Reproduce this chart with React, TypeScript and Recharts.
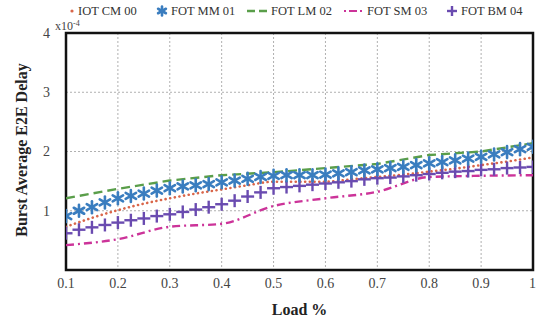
import React from 'react';
import { LineChart, Line, XAxis, YAxis, CartesianGrid, ReferenceArea } from 'recharts';

// delay values are in units of 1e-4 (axis shows x10^-4)
const loadFine = [
  0.1, 0.125, 0.15, 0.175, 0.2, 0.225, 0.25, 0.275, 0.3, 0.325, 0.35, 0.375, 0.4,
  0.425, 0.45, 0.475, 0.5, 0.525, 0.55, 0.575, 0.6, 0.625, 0.65, 0.675, 0.7, 0.725,
  0.75, 0.775, 0.8, 0.825, 0.85, 0.875, 0.9, 0.925, 0.95, 0.975, 1.0,
];
const fotMM01 = [
  0.91, 1.0, 1.06, 1.14, 1.21, 1.25, 1.29, 1.34, 1.38, 1.41, 1.43, 1.45, 1.48,
  1.51, 1.54, 1.57, 1.59, 1.6, 1.6, 1.6, 1.61, 1.63, 1.65, 1.68, 1.7, 1.72,
  1.74, 1.77, 1.8, 1.82, 1.85, 1.88, 1.91, 1.95, 1.99, 2.04, 2.08,
];
const fotBM04 = [
  0.62, 0.68, 0.72, 0.76, 0.8, 0.84, 0.87, 0.91, 0.94, 0.98, 1.02, 1.06, 1.11,
  1.17, 1.24, 1.31, 1.38, 1.4, 1.42, 1.44, 1.46, 1.48, 1.5, 1.53, 1.55, 1.56,
  1.58, 1.6, 1.62, 1.64, 1.66, 1.67, 1.69, 1.7, 1.72, 1.73, 1.74,
];

const loadMid = [0.1, 0.15, 0.2, 0.25, 0.3, 0.35, 0.4, 0.45, 0.5, 0.55, 0.6, 0.65, 0.7, 0.75, 0.8, 0.85, 0.9, 0.95, 1.0];
const iotCM00 = [0.73, 0.88, 1.01, 1.12, 1.21, 1.29, 1.36, 1.43, 1.49, 1.49, 1.49, 1.53, 1.57, 1.61, 1.66, 1.71, 1.77, 1.83, 1.9];

const loadCoarse = [0.1, 0.2, 0.3, 0.4, 0.5, 0.6, 0.7, 0.8, 0.9, 1.0];
const fotLM02 = [1.21, 1.37, 1.51, 1.6, 1.65, 1.72, 1.79, 1.94, 2.0, 2.14];
const fotSM03 = [0.42, 0.52, 0.73, 0.78, 1.08, 1.21, 1.32, 1.57, 1.59, 1.6];

const xTicks = [0.1, 0.2, 0.3, 0.4, 0.5, 0.6, 0.7, 0.8, 0.9, 1];
const yTicks = [1, 2, 3, 4];

const font = '"Liberation Serif", "Times New Roman", serif';
const c = {
  cm: '#d9664a',
  mm: '#3a7dbf',
  lm: '#5a9e4a',
  sm: '#cc3399',
  bm: '#6a4bb0',
};

const zip = (xs: number[], ys: number[]) => xs.map((x, i) => ({ load: x, v: ys[i] }));

// "size" rather than "r": recharts passes its own r to dot renderers
const Star = (props: any) => {
  const { cx, cy, size = 6 } = props;
  if (cx == null || cy == null) return null;
  const dx = size * Math.cos(Math.PI / 6);
  const dy = size * Math.sin(Math.PI / 6);
  return (
    <g stroke={c.mm} strokeWidth={2.6} strokeLinecap="round">
      <line x1={cx} y1={cy - size} x2={cx} y2={cy + size} />
      <line x1={cx - dx} y1={cy - dy} x2={cx + dx} y2={cy + dy} />
      <line x1={cx - dx} y1={cy + dy} x2={cx + dx} y2={cy - dy} />
    </g>
  );
};

const Plus = (props: any) => {
  const { cx, cy, size = 6.5 } = props;
  if (cx == null || cy == null) return null;
  return (
    <g stroke={c.bm} strokeWidth={2.4}>
      <line x1={cx} y1={cy - size} x2={cx} y2={cy + size} />
      <line x1={cx - size} y1={cy} x2={cx + size} y2={cy} />
    </g>
  );
};

const legendItems = [
  { name: 'IOT CM 00', key: 'cm', icon: 72, text: 78 },
  { name: 'FOT MM 01', key: 'mm', icon: 162, text: 171 },
  { name: 'FOT LM 02', key: 'lm', icon: 257, text: 271 },
  { name: 'FOT SM 03', key: 'sm', icon: 353, text: 367 },
  { name: 'FOT BM 04', key: 'bm', icon: 452, text: 461 },
];

const LegendIcon = ({ k, x }: { k: string; x: number }) => {
  const y = 11;
  if (k === 'cm') return <circle cx={x} cy={y} r={1.6} fill={c.cm} />;
  if (k === 'mm') return <Star cx={x} cy={y} size={4.5} />;
  if (k === 'lm') return <line x1={x - 10} y1={y} x2={x + 10} y2={y} stroke={c.lm} strokeWidth={2.4} strokeDasharray="8 4" />;
  if (k === 'sm') return <line x1={x - 9} y1={y} x2={x + 9} y2={y} stroke={c.sm} strokeWidth={2.2} strokeDasharray="2 3 8 3 2" />;
  return <Plus cx={x} cy={y} size={5} />;
};

export default function App() {
  return (
    <div style={{ position: 'absolute', left: 0, top: 0, width: 536, height: 324, background: '#fff', fontFamily: font }}>
      <LineChart width={536} height={324} margin={{ top: 33, right: 3, bottom: 0, left: 0 }}>
        <CartesianGrid stroke="#b0b0b0" strokeDasharray="2 2" horizontalValues={[1, 2, 3]} verticalValues={xTicks} />
        <XAxis
          dataKey="load"
          type="number"
          domain={[0.1, 1]}
          ticks={xTicks}
          allowDataOverflow
          height={54}
          tickLine={false}
          axisLine={false}
          tickMargin={2}
          tick={{ fontFamily: font, fontSize: 14, fill: '#444' }}
          label={{ value: 'Load %', position: 'insideBottom', offset: 9, style: { fontFamily: font, fontSize: 16, fontWeight: 'bold', fill: '#222' } }}
        />
        <YAxis
          type="number"
          domain={[0, 4]}
          ticks={yTicks}
          width={66}
          tickLine={false}
          axisLine={false}
          tickMargin={10}
          tick={{ fontFamily: font, fontSize: 14, fill: '#444' }}
        />
        <Line data={zip(loadCoarse, fotLM02)} dataKey="v" name="FOT LM 02" stroke={c.lm} strokeWidth={2.4} strokeDasharray="9 5" dot={false} isAnimationActive={false} />
        <Line data={zip(loadCoarse, fotSM03)} dataKey="v" name="FOT SM 03" stroke={c.sm} strokeWidth={2.4} strokeDasharray="8 4 2 4" dot={false} type="monotone" isAnimationActive={false} />
        <Line data={zip(loadMid, iotCM00)} dataKey="v" name="IOT CM 00" stroke={c.cm} strokeWidth={2.6} strokeDasharray="0.1 4.6" strokeLinecap="round" dot={false} type="monotone" isAnimationActive={false} />
        <Line data={zip(loadFine, fotBM04)} dataKey="v" name="FOT BM 04" stroke="none" dot={<Plus />} activeDot={false} isAnimationActive={false} />
        <Line data={zip(loadFine, fotMM01)} dataKey="v" name="FOT MM 01" stroke="none" dot={<Star />} activeDot={false} isAnimationActive={false} />
        <ReferenceArea x1={0.1} x2={1} y1={0} y2={4} fill="none" stroke="#111" strokeWidth={2.5} ifOverflow="visible" />
        <text x={55} y={30} fontFamily={font} fontSize={12} fill="#444">
          x10<tspan dy={-4} fontSize={8}>-4</tspan>
        </text>
        <text
          x={0}
          y={0}
          transform="translate(27, 150) rotate(-90)"
          textAnchor="middle"
          fontFamily={font}
          fontSize={16}
          fontWeight="bold"
          fill="#222"
        >
          Burst Average E2E Delay
        </text>
        {legendItems.map((it) => (
          <g key={it.key}>
            <LegendIcon k={it.key} x={it.icon} />
            <text x={it.text} y={15} fontFamily={font} fontSize={12.5} fill="#333">
              {it.name}
            </text>
          </g>
        ))}
      </LineChart>
    </div>
  );
}
